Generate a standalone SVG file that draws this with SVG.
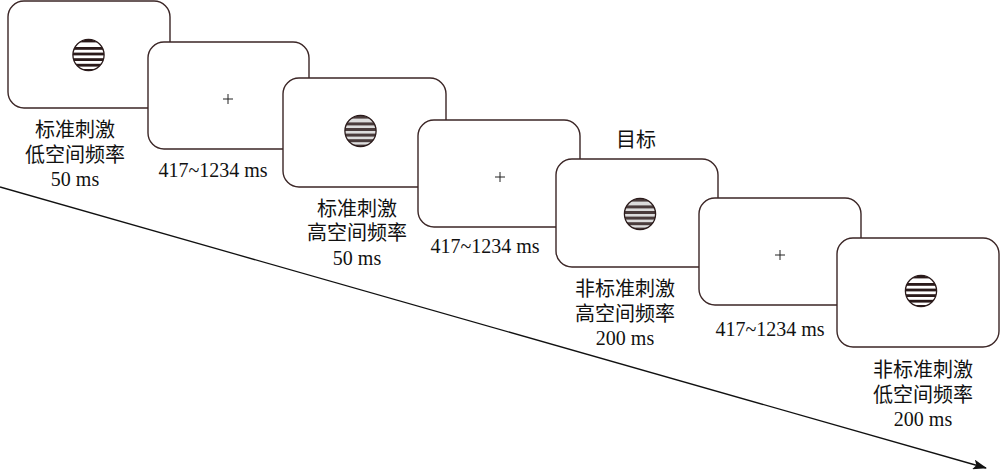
<svg xmlns="http://www.w3.org/2000/svg" xmlns:xlink="http://www.w3.org/1999/xlink" width="1000" height="472" viewBox="0 0 1000 472">
<style>
.frame{fill:#fff;stroke:#3b2626;stroke-width:1.4}
.fix{stroke:#222;stroke-width:1}
.t{font-family:"Liberation Serif","Noto Sans CJK SC",serif;font-size:20px;fill:#111;text-anchor:middle}
.ring{fill:none;stroke:#2a1a1a;stroke-width:1.3}
</style>
<defs>
<clipPath id="cc"><circle cx="0" cy="0" r="15.6"/></clipPath>
<marker id="ah" markerWidth="14" markerHeight="10" refX="13" refY="5" orient="auto" markerUnits="userSpaceOnUse">
<path d="M0,0 L14,5 L0,10 L3,5 Z" fill="#111"/>
</marker>
<g id="gLow">
<circle r="15.6" fill="#fff"/>
<g clip-path="url(#cc)" fill="#2a1a1a">
<rect x="-17" y="-17" width="34" height="4.4"/>
<rect x="-17" y="-8" width="34" height="2.8"/>
<rect x="-17" y="-2.4" width="34" height="2.8"/>
<rect x="-17" y="3.2" width="34" height="2.8"/>
<rect x="-17" y="8.8" width="34" height="2.8"/>
<rect x="-17" y="14" width="34" height="4"/>
</g>
<circle r="15.6" class="ring"/>
</g>
<g id="gHigh">
<circle r="15.6" fill="#ddd"/>
<g clip-path="url(#cc)" fill="#4a3c3c">
<rect x="-17" y="-17" width="34" height="4.6"/>
<rect x="-17" y="-8.6" width="34" height="3"/>
<rect x="-17" y="-3" width="34" height="3"/>
<rect x="-17" y="2.6" width="34" height="3"/>
<rect x="-17" y="8.2" width="34" height="3"/>
<rect x="-17" y="13.6" width="34" height="4"/>
</g>
<circle r="15.6" class="ring"/>
</g>
</defs>

<g id="connectors">
<line x1="0" y1="187" x2="986" y2="468" stroke="#111" stroke-width="1.3" marker-end="url(#ah)"/>
</g>

<g id="frame1">
<rect class="frame" x="8" y="1" width="162" height="107" rx="16"/>
<use xlink:href="#gLow" href="#gLow" transform="translate(88.5,55)"/>
<text class="t" x="75" y="137">标准刺激</text>
<text class="t" x="75" y="162">低空间频率</text>
<text class="t" x="75" y="186">50 ms</text>
</g>

<g id="frame2">
<rect class="frame" x="148" y="42" width="161" height="107" rx="16"/>
<path class="fix" d="M223,99 H233 M228,94 V104"/>
<text class="t" x="213" y="177">417~1234 ms</text>
</g>

<g id="frame3">
<rect class="frame" x="283" y="78" width="163" height="109" rx="16"/>
<use xlink:href="#gHigh" href="#gHigh" transform="translate(360.5,131)"/>
<text class="t" x="357" y="216">标准刺激</text>
<text class="t" x="357" y="240">高空间频率</text>
<text class="t" x="357" y="265">50 ms</text>
</g>

<g id="frame4">
<rect class="frame" x="418" y="120" width="162" height="107" rx="16"/>
<path class="fix" d="M495,177 H505 M500,172 V182"/>
<text class="t" x="485" y="253">417~1234 ms</text>
</g>

<g id="frame5">
<text class="t" x="636" y="147">目标</text>
<rect class="frame" x="556" y="159" width="162" height="108" rx="16"/>
<use xlink:href="#gHigh" href="#gHigh" transform="translate(640,214)"/>
<text class="t" x="625" y="296">非标准刺激</text>
<text class="t" x="625" y="321">高空间频率</text>
<text class="t" x="625" y="345">200 ms</text>
</g>

<g id="frame6">
<rect class="frame" x="699" y="198" width="162" height="107" rx="16"/>
<path class="fix" d="M775,255 H785 M780,250 V260"/>
<text class="t" x="770" y="336">417~1234 ms</text>
</g>

<g id="frame7">
<rect class="frame" x="837" y="238" width="162" height="109" rx="16"/>
<use xlink:href="#gLow" href="#gLow" transform="translate(921,291)"/>
<text class="t" x="923" y="377">非标准刺激</text>
<text class="t" x="923" y="402">低空间频率</text>
<text class="t" x="923" y="426">200 ms</text>
</g>
</svg>
